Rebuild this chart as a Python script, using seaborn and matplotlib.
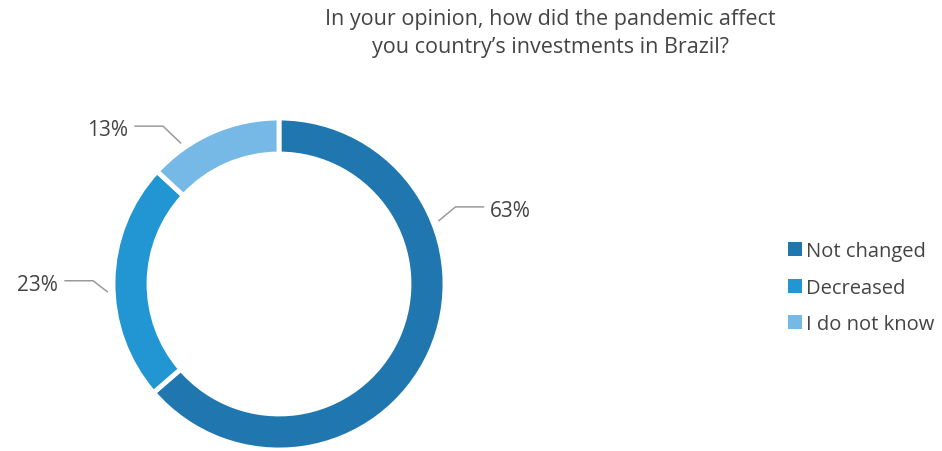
import numpy as np
import seaborn as sns
import matplotlib.pyplot as plt
from matplotlib.patches import Patch

categories = ['Not changed', 'Decreased', 'I do not know']
shares = [63, 23, 13]
pct_labels = ['63%', '23%', '13%']

sns.set_theme(style="white")
plt.rcParams['font.family'] = ['Open Sans', 'DejaVu Sans']
colors = sns.color_palette(['#2077b0', '#2196d3', '#76b9e6'])
txt = '#444444'

fig = plt.figure(figsize=(9.42, 4.52), dpi=100)
ax = fig.add_axes([113 / 942, 1 / 452, 332 / 942, 332 / 452])

wedges, _ = ax.pie(shares, colors=colors, startangle=90, counterclock=False,
                   radius=1.0, wedgeprops=dict(width=0.217, edgecolor='white', linewidth=3.5))
ax.set_xlim(-1, 1)
ax.set_ylim(-1, 1)
ax.set_aspect('auto')
ax.axis('off')

# leader lines: (anchor angle, elbow angle, elbow radius)
leaders = [(21.6, 23.6, 1.16), (182.6, 179.0, 1.12), (124.9, 126.3, 1.18)]
for lab, (a0, a1, r1) in zip(pct_labels, leaders):
    p0 = 1.035 * np.array([np.cos(np.radians(a0)), np.sin(np.radians(a0))])
    p1 = r1 * np.array([np.cos(np.radians(a1)), np.sin(np.radians(a1))])
    side = 1 if p1[0] > 0 else -1
    p2 = p1 + np.array([side * 0.17, 0])
    ax.plot([p0[0], p1[0], p2[0]], [p0[1], p1[1], p2[1]], color='#9a9a9a',
            lw=1.1, clip_on=False)
    ax.text(p2[0] + side * 0.04, p2[1] - 0.02, lab, ha='left' if side > 0 else 'right',
            va='center', fontsize=15, color=txt, clip_on=False)

fig.text(0.584, 0.925, "In your opinion, how did the pandemic affect\nyou country\u2019s investments in Brazil?",
         ha='center', va='center', fontsize=15.5, color=txt, linespacing=1.45)

handles = [Patch(facecolor=c, edgecolor='none') for c in colors]
fig.legend(handles, categories, loc='center left', bbox_to_anchor=(0.826, 0.361),
           frameon=False, fontsize=14.5, handlelength=0.7, handleheight=0.7,
           handletextpad=0.2, labelspacing=0.82, labelcolor=txt, borderpad=0)

fig.savefig('out.png', dpi=100)
